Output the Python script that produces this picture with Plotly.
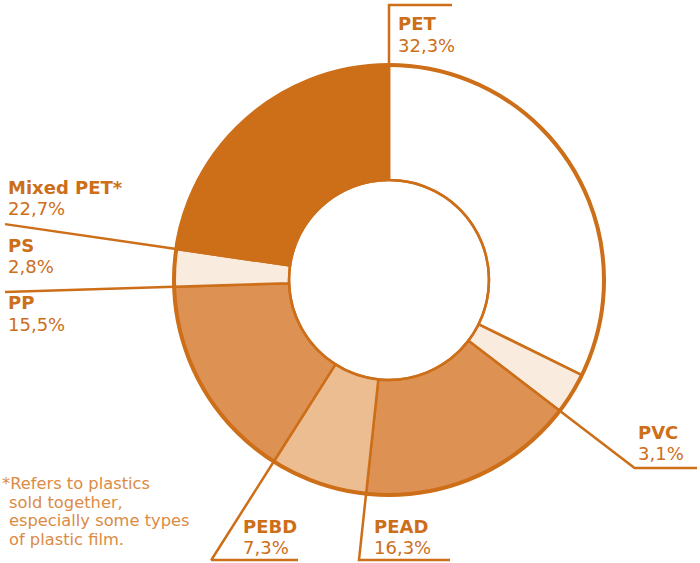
import math
import plotly.graph_objects as go

# Composition of collected plastics (share of total, %)
materials = ["PET", "PVC", "PEAD", "PEBD", "PP", "PS", "Mixed PET"]
shares = [32.3, 3.1, 16.3, 7.3, 15.5, 2.8, 22.7]
fills = ["#FFFFFF", "#FAEBDF", "#DD9153", "#EBBD91", "#DD9153", "#FAEBDF", "#CD6E19"]
label_names = ["PET", "PVC", "PEAD", "PEBD", "PP", "PS", "Mixed PET*"]
footnote_lines = ["*Refers to plastics", "sold together,", "especially some types", "of plastic film."]

ORANGE = "#CD6E19"
NOTE = "#DB8B45"
W, H = 700, 563
CX, CY, R = 389, 280, 215          # donut centre and outer radius (px)
HOLE = 0.465
FONT = "DejaVu Sans, sans-serif"


def fmt(v):
    return f"{v:.1f}".replace(".", ",") + "%"


# cumulative boundaries, clockwise from 12 o'clock
total = sum(shares)
bounds = [0.0]
for v in shares:
    bounds.append(bounds[-1] + v / total)


def polar(frac, r):
    a = 2 * math.pi * frac
    return CX + r * math.sin(a), CY - r * math.cos(a)


fig = go.Figure()

fig.add_trace(go.Pie(
    labels=materials, values=shares, sort=False, direction="clockwise",
    rotation=0, hole=HOLE, textinfo="none", hoverinfo="label+percent",
    marker=dict(colors=fills, line=dict(color=ORANGE, width=2.5)),
    domain=dict(x=[(CX - R) / W, (CX + R) / W],
                y=[(H - CY - R) / H, (H - CY + R) / H]),
    showlegend=False,
))

# Leader lines run outward along a slice boundary, then optionally turn horizontal.
# (boundary index, elbow constraint, tail end x)
leaders = [
    (0, ("y", 5), 452),      # PET
    (2, ("y", 468), 697),    # PVC
    (3, ("y", 560), 450),    # PEAD
    (4, ("y", 560), 298),    # PEBD
    (5, ("x", 5), None),     # PP
    (6, ("x", 5), None),     # PS / Mixed PET
]
for idx, (axis, target), tail in leaders:
    frac = bounds[idx] % 1.0
    a = 2 * math.pi * frac
    dx, dy = math.sin(a), -math.cos(a)
    if axis == "y":
        r_end = (target - CY) / dy
    else:
        r_end = (target - CX) / dx
    x0, y0 = polar(frac, R)
    x1, y1 = polar(frac, r_end)
    xs, ys = [x0, x1], [y0, y1]
    if tail is not None:
        xs.append(tail)
        ys.append(y1)
    fig.add_trace(go.Scatter(x=xs, y=ys, mode="lines",
                             line=dict(color=ORANGE, width=2.5),
                             hoverinfo="skip", showlegend=False))

# Label anchors: left x, y of name line, y of value line
label_pos = {
    "PET": (396, 23, 45),
    "PVC": (636, 432, 453),
    "PEAD": (372, 526, 547),
    "PEBD": (241, 526, 547),
    "PP": (6, 302, 324),
    "PS": (6, 245, 266),
    "Mixed PET": (6, 187, 208),
}
annotations = []
for name, lab, v in zip(materials, label_names, shares):
    x, y1, y2 = label_pos[name]
    annotations.append(dict(x=x, y=y1, xref="x", yref="y", text=f"<b>{lab}</b>",
                            showarrow=False, xanchor="left", yanchor="middle",
                            font=dict(family=FONT, size=18, color=ORANGE)))
    annotations.append(dict(x=x, y=y2, xref="x", yref="y", text=fmt(v),
                            showarrow=False, xanchor="left", yanchor="middle",
                            font=dict(family=FONT, size=18, color=ORANGE)))

# Footnote: asterisk hangs in the margin, following lines indented to match
for i, line in enumerate(footnote_lines):
    annotations.append(dict(x=0 if i == 0 else 7, y=483 + i * 18.7, xref="x", yref="y",
                            text=line, showarrow=False, xanchor="left", yanchor="middle",
                            height=18, font=dict(family=FONT, size=16.3, color=NOTE)))

fig.update_layout(
    width=W, height=H,
    margin=dict(l=0, r=0, t=0, b=0),
    paper_bgcolor="white", plot_bgcolor="rgba(0,0,0,0)",
    xaxis=dict(range=[0, W], visible=False, fixedrange=True),
    yaxis=dict(range=[H, 0], visible=False, fixedrange=True),
    annotations=annotations,
    shapes=[
        dict(type="circle", xref="x", yref="y",
             x0=CX - R, x1=CX + R, y0=CY - R, y1=CY + R,
             line=dict(color=ORANGE, width=4), layer="above"),
        dict(type="circle", xref="x", yref="y",
             x0=CX - R * HOLE, x1=CX + R * HOLE, y0=CY - R * HOLE, y1=CY + R * HOLE,
             line=dict(color=ORANGE, width=2.5), layer="above"),
    ],
)

fig.write_html("out.html")
